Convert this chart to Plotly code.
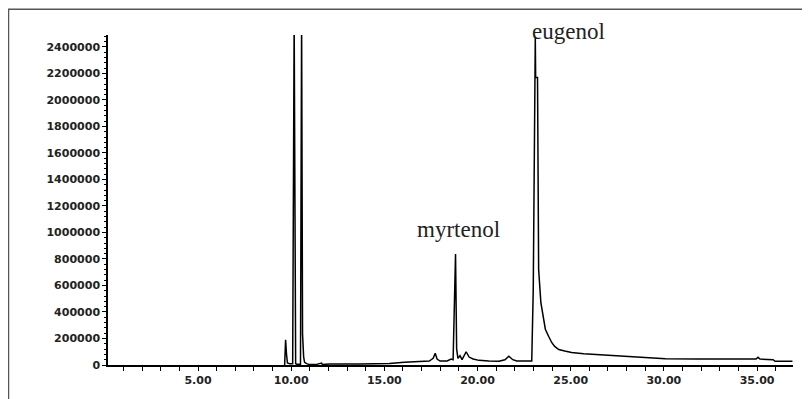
import plotly.graph_objects as go

# Retention time (min) and abundance
time_min = [9.65, 9.70, 9.75, 9.80, 9.92, 10.08, 10.16, 10.24, 10.30, 10.50, 10.56, 10.61, 10.67,
            10.72, 10.83, 10.99, 11.31, 11.63, 11.68, 12.06, 13.66, 15.27, 16.07, 16.76, 17.41,
            17.62, 17.73, 17.83, 17.99, 18.37, 18.58, 18.69, 18.77, 18.82, 18.88, 18.95, 19.06,
            19.17, 19.39, 19.55, 19.76, 20.08, 20.61, 21.15, 21.47, 21.68, 21.89, 22.11, 22.91,
            22.99, 23.10, 23.12, 23.22, 23.28, 23.40, 23.52, 23.64, 23.82, 23.98, 24.14, 24.36,
            24.68, 25.05, 25.70, 26.34, 27.57, 28.64, 30.08, 31.84, 33.98, 34.95, 35.05, 35.16,
            35.86, 35.97, 36.90]
abundance = [0, 190000, 80000, 15000, 10000, 10000, 2600000, 10000, 5000, 5000, 2600000, 235000, 60000,
             20000, 10000, 3000, 3000, 15000, 3000, 8000, 8000, 12000, 20000, 25000, 30000,
             50000, 88000, 45000, 30000, 30000, 45000, 40000, 653000, 837000, 120000, 50000, 70000,
             40000, 100000, 60000, 45000, 35000, 30000, 28000, 40000, 66000, 40000, 30000, 30000,
             565000, 2470000, 2170000, 2170000, 720000, 470000, 350000, 270000, 215000, 170000, 140000, 117000,
             105000, 95000, 85000, 80000, 66000, 58000, 48000, 46000, 45000, 45000, 58000, 45000,
             40000, 28000, 28000]

peak_names = ["myrtenol", "eugenol"]

y_tick_vals = list(range(0, 2400001, 200000))
x_tick_vals = [5, 10, 15, 20, 25, 30, 35]
x_tick_text = ["5.00", "10.00", "15.00", "20.00", "25.00", "30.00", "35.00"]

# page body has an 8px margin; figure sized to fill the rest of the 810x399 window
W, H = 802, 391
ML, MR, MT, MB = 100, 17, 27, 25
PW, PH = W - ML - MR, H - MT - MB

fig = go.Figure()
fig.add_trace(go.Scatter(x=time_min, y=abundance, mode="lines",
                         line=dict(color="black", width=1.5), hoverinfo="skip"))

fig.add_annotation(x=18.96, y=1 - (235 - 35) / PH, xref="x", yref="paper", text=peak_names[0],
                   showarrow=False, yanchor="middle", xanchor="center",
                   font=dict(family="Liberation Serif", size=23, color="#222"))
fig.add_annotation(x=24.9, y=1 + (35 - 31) / PH, xref="x", yref="paper", text=peak_names[1],
                   showarrow=False, yanchor="middle", xanchor="center",
                   font=dict(family="Liberation Serif", size=23, color="#222"))

tickfont = dict(family="DejaVu Sans", size=11, color="#222", weight="bold")
fig.update_layout(
    width=W, height=H,
    margin=dict(l=ML, r=MR, t=MT, b=MB, pad=0),
    plot_bgcolor="white", paper_bgcolor="white",
    showlegend=False,
    xaxis=dict(range=[0.17, 36.93], showgrid=False, zeroline=False,
               showline=True, linecolor="black", linewidth=1.5,
               tickmode="array", tickvals=x_tick_vals, ticktext=x_tick_text,
               ticks="outside", ticklen=4, tickcolor="black", tickfont=tickfont,
               minor=dict(dtick=1, tick0=0, ticks="outside", ticklen=4, tickcolor="black")),
    yaxis=dict(range=[0, 2490000], showgrid=False, zeroline=False,
               showline=True, linecolor="black", linewidth=1.5,
               tickmode="array", tickvals=y_tick_vals,
               ticktext=[str(v) for v in y_tick_vals],
               ticks="outside", ticklen=4, tickcolor="black", tickfont=tickfont,
               minor=dict(dtick=40000, tick0=0, ticks="outside", ticklen=2, tickcolor="black")),
)

# outer frame around the whole figure (bottom edge lies below the window)
fig.add_shape(type="rect", xref="paper", yref="paper",
              x0=(0.5 - ML) / PW, x1=(797 - ML) / PW,
              y0=-(MB + 30) / PH, y1=1 + (MT - 0.5) / PH,
              line=dict(color="#555", width=1.5), fillcolor="rgba(0,0,0,0)", layer="below")

fig.write_html("out.html")
